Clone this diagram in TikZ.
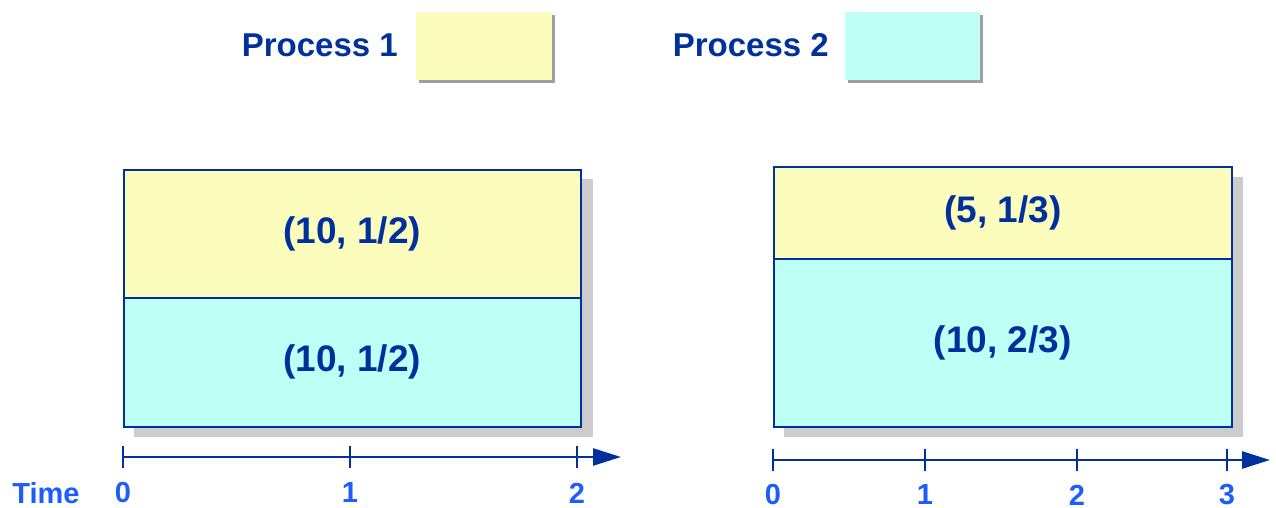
\documentclass[tikz,border=0pt]{standalone}
\usepackage{fontspec}
\setmainfont{Liberation Sans}
\usetikzlibrary{arrows.meta}
\definecolor{ink}{HTML}{00309C}
\definecolor{tickblue}{HTML}{1E5CFF}
\definecolor{procA}{HTML}{FCFDBC}
\definecolor{procB}{HTML}{BEFFF6}
\definecolor{shadowgray}{HTML}{CCCCCC}
\definecolor{keyshadow}{HTML}{A0A0A0}
\begin{document}
\begin{tikzpicture}[x=1pt,y=-1pt,
  slot/.style={draw=ink, line width=1.5pt, inner sep=0pt, anchor=north west,
    font=\fontsize{37}{37}\selectfont\bfseries, text=ink},
  keybox/.style={inner sep=0pt, anchor=north west, minimum width=136pt, minimum height=68pt},
  keytext/.style={font=\fontsize{33}{33}\selectfont\bfseries, text=ink, inner sep=0pt, anchor=east},
  axis/.style={draw=ink, line width=2.5pt, -{Triangle[length=28pt,width=17pt]}},
  tick/.style={draw=ink, line width=2pt},
  ticklabel/.style={font=\fontsize{29}{29}\selectfont\bfseries, text=tickblue, inner sep=0pt}]
\useasboundingbox (0,0) rectangle (1276,508);

% legend
\node[keytext] (k1) at (398,45) {Process 1};
\fill[keyshadow] (419,15) rectangle (555,83);
\node[keybox, fill=procA] (k1box) at (416,12) {};
\node[keytext] (k2) at (829,45) {Process 2};
\fill[keyshadow] (848,15) rectangle (983,83);
\node[keybox, fill=procB, minimum width=135pt] (k2box) at (845,12) {};

% left schedule: two equal shares
\fill[shadowgray] (134,179) rectangle (593,437);
\node[slot, fill=procA, minimum width=457pt, minimum height=128pt] (l1) at (123,169) {(10, 1/2)};
\node[slot, fill=procB, minimum width=457pt, minimum height=129pt] (l2) at (123,297) {(10, 1/2)};

% right schedule: one third / two thirds
\fill[shadowgray] (784,177) rectangle (1243,437);
\node[slot, fill=procA, minimum width=458pt, minimum height=92pt] (r1) at (773,166) {(5, 1/3)};
\node[slot, fill=procB, minimum width=458pt, minimum height=168pt] (r2) at (773,258) {(10, 2/3)};

% left time axis
\coordinate (la) at (123,457);
\coordinate (lb) at (621,457);
\draw[axis] (la) -- (lb);
\foreach \x/\t [count=\i] in {123/0,350/1,577/2}{
  \coordinate (lt\i) at (\x,457);
  \draw[tick] ([yshift=-11pt]lt\i) -- ([yshift=11pt]lt\i);
  \node[ticklabel] (ll\i) at (\x,493) {\t};
}
\node[ticklabel] (time) at (46,493) {Time};

% right time axis
\coordinate (ra) at (773,460);
\coordinate (rb) at (1270,460);
\draw[axis] (ra) -- (rb);
\foreach \x/\t [count=\i] in {773/0,925/1,1077/2,1227/3}{
  \coordinate (rt\i) at (\x,460);
  \draw[tick] ([yshift=-11pt]rt\i) -- ([yshift=11pt]rt\i);
  \node[ticklabel] (rl\i) at (\x,495) {\t};
}
\end{tikzpicture}
\end{document}
